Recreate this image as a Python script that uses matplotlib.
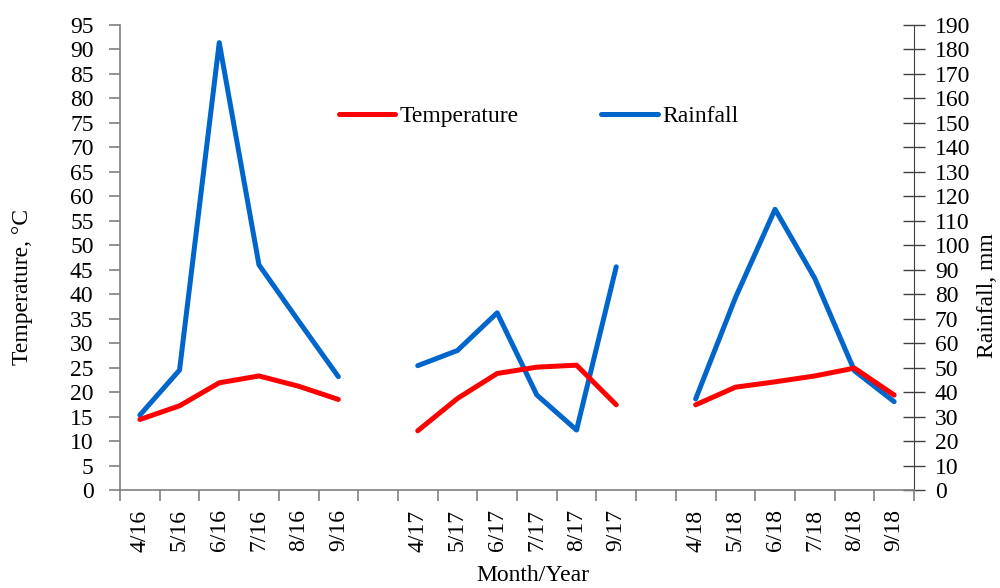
import matplotlib
matplotlib.use("Agg")
import matplotlib.pyplot as plt
from matplotlib.ticker import MultipleLocator, FixedLocator, NullFormatter
import numpy as np

# ---- data (blank categories separate the years) ----
months = ["4/16", "5/16", "6/16", "7/16", "8/16", "9/16", "",
          "4/17", "5/17", "6/17", "7/17", "8/17", "9/17", "",
          "4/18", "5/18", "6/18", "7/18", "8/18", "9/18"]

temperature = [14.4, 17.2, 21.9, 23.3, 21.2, 18.5, np.nan,
               12.1, 18.7, 23.8, 25.1, 25.5, 17.4, np.nan,
               17.4, 21.0, 22.1, 23.3, 24.9, 19.4]

rainfall = [30.6, 49.0, 182.8, 92.0, 69.0, 46.3, np.nan,
            50.8, 57.0, 72.4, 38.8, 24.5, 91.2, np.nan,
            37.2, 78.5, 114.7, 86.5, 48.7, 36.1]

RED = "#FF0000"
BLUE = "#0066CC"
AXIS_COL = "#808080"

plt.rcParams["font.family"] = ["Liberation Serif", "DejaVu Serif"]
plt.rcParams["font.size"] = 17

fig = plt.figure(figsize=(10, 5.88), dpi=100)
ax = fig.add_axes([0.12, 1 - 490 / 588, 0.794, 465 / 588])
ax2 = ax.twinx()

x = np.arange(len(months))
l1, = ax.plot(x, temperature, color=RED, lw=3.6, solid_capstyle="round",
              solid_joinstyle="round", label="Temperature")
l2, = ax2.plot(x, rainfall, color=BLUE, lw=3.6, solid_capstyle="round",
               solid_joinstyle="round", label="Rainfall")
ax.set_zorder(ax2.get_zorder() + 1)
ax.patch.set_visible(False)

ax.set_xlim(-0.5, len(months) - 0.5)
ax.set_ylim(0, 95)
ax2.set_ylim(0, 190)
ax.yaxis.set_major_locator(MultipleLocator(5))
ax2.yaxis.set_major_locator(MultipleLocator(10))

# category ticks between groups, labels at centres
ax.xaxis.set_major_locator(FixedLocator(np.arange(-0.5, len(months), 1.0)))
ax.xaxis.set_major_formatter(NullFormatter())
ax.xaxis.set_minor_locator(FixedLocator(x))
ax.set_xticklabels(months, minor=True, rotation=90)
ax.tick_params(axis="x", which="minor", length=0, pad=14)
ax.tick_params(axis="x", which="major", length=8, width=1.2, color=AXIS_COL)
ax.tick_params(axis="y", length=8, width=1.2, color=AXIS_COL, pad=11)
ax2.tick_params(axis="y", direction="inout", length=16, width=1.0,
                color="#404040", pad=7)

for s in ["top", "right"]:
    ax.spines[s].set_visible(False)
ax.spines["left"].set_color(AXIS_COL)
ax.spines["bottom"].set_color(AXIS_COL)
ax.spines["left"].set_linewidth(1.2)
ax.spines["bottom"].set_linewidth(1.2)
for s in ["top", "left", "bottom"]:
    ax2.spines[s].set_visible(False)
ax2.spines["right"].set_color("#404040")

ax.set_ylabel("Temperature, °C")
ax.yaxis.set_label_coords(-0.110, 0.437)
ax2.set_ylabel("Rainfall, mm")
ax2.yaxis.set_label_coords(1.079, 0.417)
ax.set_xlabel("Month/Year", va="center")
ax.xaxis.set_label_coords(0.52, -0.183)

ax.legend(handles=[l1, l2], loc="center", bbox_to_anchor=(0.527, 0.804),
          ncol=2, frameon=False, handlelength=2.4, handletextpad=0.17,
          columnspacing=3.5)

fig.savefig("out.png", dpi=100)
